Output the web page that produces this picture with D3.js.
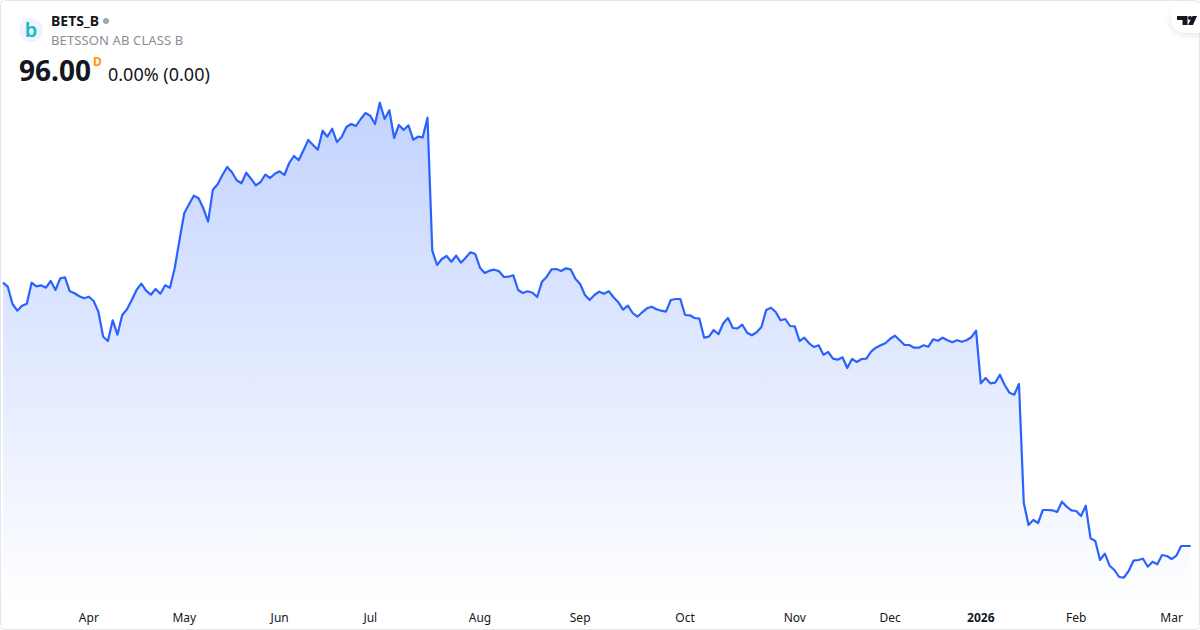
<!DOCTYPE html>
<html>
<head>
<meta charset="utf-8">
<script src="https://cdn.jsdelivr.net/npm/d3@7"></script>
<style>
  html, body { margin: 0; padding: 0; background: #fff; }
  svg { display: block; font-family: "Noto Sans", sans-serif; }
</style>
</head>
<body>
<svg id="chart" width="1200" height="630"></svg>
<script>
const symbol = "BETS_B";
const companyName = "BETSSON AB CLASS B";
const lastPrice = "96.00";
const intervalLabel = "D";
const changeLabel = "0.00% (0.00)";

// closes, one per trading day
const closes = [
  148.66, 147.86, 144.4, 143.06, 144.06, 144.46, 148.66, 147.94, 148.14, 147.66,
  149, 147.2, 149.54, 149.74, 146.94, 146.54, 145.94, 145.54, 145.86, 145,
  142.86, 137.86, 137, 141.14, 138.26, 142.2, 143.34, 145.2, 147.2, 148.46,
  147.06, 146.26, 147.4, 146.46, 148.14, 147.66, 151.54, 157.2, 162.54, 164.34,
  166.06, 165.54, 163.54, 160.86, 167.26, 168.34, 170.2, 171.8, 170.74, 169.14,
  168.54, 170.66, 169.46, 168.14, 168.8, 170.26, 169.6, 170.46, 170.94, 170.2,
  172.6, 174, 173.14, 175.14, 177.2, 176.2, 175.26, 179.06, 177.86, 179.46,
  176.8, 177.8, 179.8, 180.4, 180, 181.4, 182.6, 182.06, 180.4, 184.66,
  181.4, 183.14, 177.6, 180.2, 179.2, 180.14, 177.26, 177.86, 177.74, 181.66,
  155.06, 152.2, 153.4, 154, 152.86, 154.06, 152.66, 153.66, 154.74, 154.4,
  151.66, 150.6, 151.06, 151.26, 150.94, 149.8, 149.86, 150.14, 147.2, 146.6,
  146.94, 146.66, 145.8, 148.86, 149.86, 151.34, 151.4, 151, 151.54, 151.34,
  149.46, 148.4, 146.2, 145.2, 146.2, 146.86, 146.46, 146.94, 145.74, 144.74,
  143.26, 144.06, 142.6, 141.86, 142.74, 143.54, 143.86, 143.34, 143.06, 142.86,
  145.2, 145.4, 145.4, 142.2, 142.14, 141.6, 141.46, 137.66, 137.86, 139.2,
  138.34, 140.54, 141.6, 139.6, 139.54, 140.26, 138.66, 138.14, 138.74, 139.8,
  143.2, 143.66, 142.8, 141.14, 141.4, 140, 139.94, 137, 137.66, 136.54,
  135.8, 136.14, 134.26, 134.8, 133.46, 133.26, 133.74, 131.6, 133.4, 132.8,
  133.4, 133.46, 134.86, 135.66, 136.14, 136.54, 137.46, 138.06, 137.14, 136.2,
  136.2, 135.66, 135.66, 136.14, 135.86, 137.34, 137.06, 137.66, 137.14, 136.74,
  137.14, 136.86, 137.14, 137.74, 139.06, 128.54, 129.6, 128.54, 128.66, 130.26,
  128.2, 126.66, 126.26, 128.4, 104.66, 100.2, 101.2, 100.6, 103.2, 103.2,
  103.14, 102.8, 104.86, 103.86, 103.14, 103, 102, 104.06, 97.54, 97,
  93.2, 94.46, 92.06, 91.2, 89.8, 89.66, 91, 93.06, 93.2, 93.46,
  91.86, 92.86, 92.34, 94.2, 94, 93.4, 94.06, 96, 96, 96
];

const monthLabels = ["Apr", "May", "Jun", "Jul", "Aug", "Sep", "Oct", "Nov", "Dec", "2026", "Feb", "Mar"];
const monthStarts = [18, 38, 58, 77, 100, 121, 143, 166, 186, 205, 225, 245];

const width = 1200;
const height = 630;
const svg = d3.select("#chart");

const x = d3.scaleLinear().domain([0, closes.length - 1]).range([3, 1190.7]);
const y = d3.scaleLinear().domain([100, 180]).range([526, 126]);

const defs = svg.append("defs");

const grad = defs
  .append("linearGradient")
  .attr("id", "areaFill")
  .attr("gradientUnits", "userSpaceOnUse")
  .attr("x1", 0)
  .attr("x2", 0)
  .attr("y1", 102)
  .attr("y2", 606);
grad.append("stop").attr("offset", 0).attr("stop-color", "#2962ff").attr("stop-opacity", 0.28);
grad.append("stop").attr("offset", 1).attr("stop-color", "#2962ff").attr("stop-opacity", 0);

const pillShadow = defs
  .append("filter")
  .attr("id", "pillShadow")
  .attr("x", "-30%")
  .attr("y", "-30%")
  .attr("width", "160%")
  .attr("height", "180%");
pillShadow
  .append("feDropShadow")
  .attr("dx", 0)
  .attr("dy", 2)
  .attr("stdDeviation", 3)
  .attr("flood-color", "#000")
  .attr("flood-opacity", 0.1);

defs
  .append("clipPath")
  .attr("id", "frameClip")
  .append("rect")
  .attr("x", 0.5)
  .attr("y", 0.5)
  .attr("width", width - 1)
  .attr("height", height - 1)
  .attr("rx", 4);

const plot = svg.append("g").attr("clip-path", "url(#frameClip)");

const area = d3
  .area()
  .x((d, i) => x(i))
  .y0(606)
  .y1((d) => y(d));

const line = d3
  .line()
  .x((d, i) => x(i))
  .y((d) => y(d));

plot.append("path").datum(closes).attr("fill", "url(#areaFill)").attr("d", area);

plot
  .append("path")
  .datum(closes)
  .attr("fill", "none")
  .attr("stroke", "#2962ff")
  .attr("stroke-width", 2.2)
  .attr("stroke-linejoin", "round")
  .attr("d", line);

const xAxis = d3
  .axisBottom(x)
  .tickValues(monthStarts)
  .tickSize(0)
  .tickPadding(0)
  .tickFormat((d, i) => monthLabels[i]);

const axisG = svg.append("g").attr("transform", "translate(-0.5,613)").call(xAxis);
axisG.select(".domain").remove();
axisG
  .selectAll(".tick text")
  .attr("fill", "#131722")
  .attr("font-family", '"Noto Sans", sans-serif')
  .attr("font-size", 12)
  .attr("font-weight", (d, i) => (monthLabels[i] === "2026" ? 700 : 400));

// header
svg.append("circle").attr("cx", 31).attr("cy", 30).attr("r", 12).attr("fill", "#f0f3fa");
svg
  .append("text")
  .attr("x", 31)
  .attr("y", 37)
  .attr("text-anchor", "middle")
  .attr("font-size", 20)
  .attr("font-weight", 600)
  .attr("fill", "#14b8cc")
  .text("b");

svg
  .append("text")
  .attr("x", 51)
  .attr("y", 26)
  .attr("font-size", 14)
  .attr("font-weight", 700)
  .attr("fill", "#131722")
  .text(symbol);
svg.append("circle").attr("cx", 106).attr("cy", 21).attr("r", 3).attr("fill", "#a3a6af");

svg
  .append("text")
  .attr("x", 51)
  .attr("y", 45)
  .attr("font-size", 13)
  .attr("letter-spacing", 0.12)
  .attr("fill", "#8a8e97")
  .text(companyName);

svg
  .append("text")
  .attr("x", 19)
  .attr("y", 81)
  .attr("font-size", 28)
  .attr("font-weight", 700)
  .attr("fill", "#131722")
  .text(lastPrice);
svg
  .append("text")
  .attr("x", 93)
  .attr("y", 66)
  .attr("font-size", 12)
  .attr("font-weight", 700)
  .attr("fill", "#ff9800")
  .text(intervalLabel);
svg
  .append("text")
  .attr("x", 108)
  .attr("y", 81)
  .attr("font-size", 18)
  .attr("fill", "#131722")
  .text(changeLabel);

// frame goes over the plot
svg
  .append("rect")
  .attr("x", 0.5)
  .attr("y", 0.5)
  .attr("width", width - 1)
  .attr("height", height - 1)
  .attr("rx", 4)
  .attr("fill", "none")
  .attr("stroke", "#e6e7ea");

// TradingView badge, top right
svg
  .append("rect")
  .attr("x", 1171)
  .attr("y", 3)
  .attr("width", 40)
  .attr("height", 30)
  .attr("rx", 14)
  .attr("fill", "#fff")
  .attr("filter", "url(#pillShadow)");
svg.append("path").attr("fill", "#131722").attr("d", "M1177 16h10.5v9h-5v-5h-5.5z");
svg.append("circle").attr("cx", 1190).attr("cy", 18).attr("r", 2.1).attr("fill", "#131722");
svg.append("path").attr("fill", "#131722").attr("d", "M1192.5 16h4.5l-4 9h-5z");
</script>
</body>
</html>
